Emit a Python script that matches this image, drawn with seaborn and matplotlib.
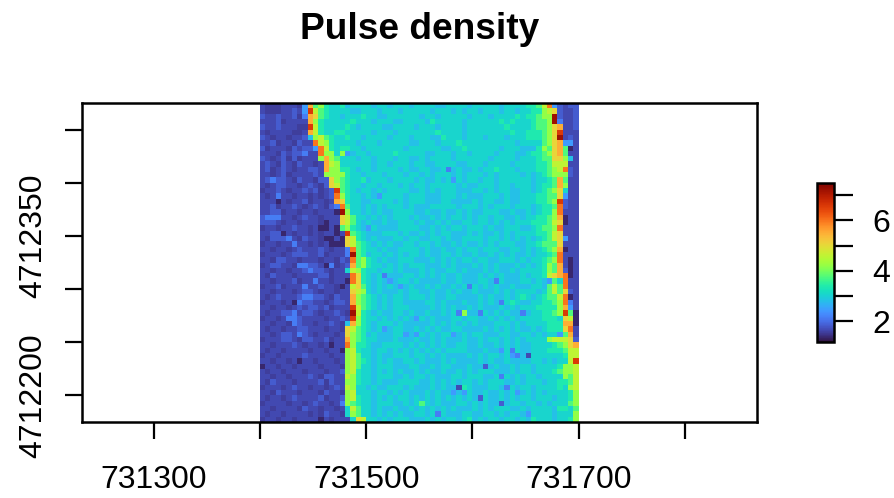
import numpy as np
import pandas as pd
import matplotlib.pyplot as plt
import seaborn as sns

sns.set_theme(style="white")
plt.rcParams['font.family'] = ['Liberation Sans', 'DejaVu Sans']

# density, one letter per 5 m cell, north to south
level_values = {'a': 1.35, 'q': 1.55, 'b': 1.66, 'c': 1.82, 'd': 2.15, 'e': 2.45, 'f': 2.8, 'g': 3.05, 'h': 3.35,
                'i': 3.75, 'j': 4.2, 'k': 4.6, 'l': 5.05, 'm': 5.5, 'n': 6.0, 'o': 6.6, 'p': 7.2}

rows_north = [
    "bqqqbbbqem ijhgghfggg gfggfgggfg gggffggggf gggggfgggg hhiknecbcc",
    "bqqqbbcbeo kihggggffg ggfgggfggg ggfgggfgfg gfgggfggfg ghhjklcbbc",
    "cbbcbbcqdm lihggfgggh ggffgggggg fggfgggggf gggfgggghg hhijjpcbbc",
    "bbbcqbbbbm jhggggghgg gfgggffggg gfhgggggfg ggggghghgg ghiijpdbbc",
    "cbbcbbbqqo khgggghgfg gggffggggf gggfggggfg gggggghggg ghiijlmbbc",
    "bqbbbbqqbm khgghhgggg gfgggfgggg ggghggggfg ggggggghgg hhhijlobbb",
    "cbqbbqbbcf jkihgghggf ggggfgggfg ggffhgggfg ggfgggfggg hhhijlpbcb",
    "bbcqbbqcbb nkjhggggfg ggfgggggff gggfggghgg ggggggggfg gggijlmeeb",
    "cqbbbqcbcc enkhghhggf gggggggfgg ggggffgghg gggggfgggf ffhjilmiab",
    "bbbqcbccdb bnjjgjefgg fgggghgggg gffgggfggf ggggfgggff ghhijlmibb",
    "cbqbcqcqbb bjmjigggfg gfgggfggff gfggggfggg gggfggggfg gghiilljfb",
    "bcbqcbqcbb qbmkjggggg gfggfgggfg gffggggffg ggfggggfgg gghhikkkbb",
    "bcqbcbqbbc cbmjjhhgfg gfggggfgff ggffgdfgff gfgghgggfg gghhijkncb",
    "bbqbcqbbbb cbjjjjhggf gggfgggfgg fgfgggfgfg ggfgfggggf gfghijjjcb",
    "bcdccbqcbb qccljihggh fgggfggggf gffgfgegfg gfggfggggg gfgghimibb",
    "bqbccbbqbc bqclkihggf ggfgggfgfg gfgggggfgf fgggfggfgg gfghhimjbb",
    "qbbcbqbbcb cqbcoihgfg gfgfggggff gfgfgggfff ggfgfggffg gfghijlgbb",
    "bqbdbbqbbq bqbcnjhggf gfeggggfgg gfffgggfgf ffgggfgffg gghhiilebb",
    "bbbabqbbcq bbqbmlhggf fggggfgfgg gfffggffff gfggffgffg gghhijocbb",
    "bbcqbbcbqb cbqcdniggf gfgfgggfgf ffgggggfgg gfgfgggfgg gfghhincbb",
]
rows_middle = [
    "bbccqbbqbb qbbbapjggf gfgffggggf fgffgffgfg ffgggffgff gfghhjnbbb",
    "cdddbbqbcb bqbbblkigg fgfgfgggfg ffgfgfggfg fggfggffgf gghhijmabb",
    "cccbqbbqbb bqabblkigf gffgffgggf gffgfgffgg fggfgfgfgg ghhhiklabb",
    "qbbqbbcbbq baabaijhgf egffffgggg ffgfgfggfg ggfgffgggf fghiijnbbb",
    "bbccabqbbq bqbbaboihg fffgggfgff gfgfggfffg fgffgfgfgg gghhiklbbb",
    "bqcccdbqcb bqaabalkhg fgfffggfgg ffggfgffgg ggfggfgfgf gfghiklebb",
    "qbbqbbdbbq bqbaaalkih gfgfgffggf ggfgffgfgf fgfgfgggff gghiiilbbb",
    "bbqbbqbcbb bcbqbbdnih ggfgffgggg fgffgffgfg gfgggffggf gfghijmabb",
    "qbbbqbcccb bcqbbbdpih fggfgfgfgg fgffggfgff gffgfgfgff gfgghinbbb",
    "bbqccbbqbb bqbbqcbnij hgfgffgggf ffgfgfgfgg fggffgggfg fgghijnbab",
    "qbccbbqddc cbadqbcmij hggfgfgfgg gfffgfgfff gfgfgfffgf gfghjimbab",
    "bbqbbqbbcd ccbqbbgkjh ggfggfgfff gfgffggfgf ffgfgffgfg ggghjimcab",
    "bqcbbbqbbb bccqbbbnlh gfgdfffggf gfgfgffgff fgfgfgfffg fgghklmnab",
    "bbqbbbcqbb dbbqbbanlh gfgfefggfg ffffgffgff fggfdgfffg gfgfeignbb",
    "qbbcqbbbdb bcbbqabkli gfgfgfefgf fgfgffgfgd gfgfgffgff fggfikinbb",
    "bbqbbbqbcc bqbbqbblkj gfgfffgfgg ffgffgfgff gfffgfgfgg ggfgikilcb",
    "bqbcbbbcdd ccbqcbbmji hgfgfggfgg gfgffggfff fgfgffgfgh gfghiiknab",
    "qbbbqbadcc bbqbccbmji hgfgfggfff fggfgfffgf fgfgfdghgf fgghhijndb",
    "bbqbbqbcbc cbcqbbboki hgfgfgggff ffgfgfgffg fgfffgfgfg gghhhhjmeb",
    "bqbbccdbcc bqbbcbqpkh gfgffggfgf fgffgfgdjf fdgfgfgffd fgghhijoia",
]
rows_south = [
    "qbbqbddcbb bbqbbcbojh ggfgfgfgfe gfgfffggfg gffgfgfgfg ggghhhglka",
    "bbqbbqdcbb qbbcbqfmjh gfgggfgfff ffgfgfgfgf gfffgggfgf gggghhhmma",
    "bqbbqbbccb bbqbbqlkih gfgefggffg fgfgffggff ffgfgfgfgf fgfghhhlnb",
    "bbqbccbdcb qbbbqbljih fgfffggefe gfgfggefgf ggfffggffg gfgfggeimb",
    "qbbbccbqcc bbcqbbmjih ggfffgfffg ffgfgfffgf fgfggfgfgf ggggjkkklc",
    "bbqbbbcbqb bqbabbnjhh gffggggfgf gfgfgffggf fgffgfgfgf fgggghijlm",
    "bqbbqbbbbq bbqbbajkhg gfggfgfgfg fgfgfggggf ffgffegdgf fggghhhikk",
    "qbbqbbbbcb bbbqbbjkig gfgffgggfg gfgfgffffg fgfggfgedf bgggggghkk",
    "bbqbbqbabb qbbbqbjkih gfgfgffggf gfffgfgfff fgfgffgfff fggfgfggko",
    "abbqbbqbbb bqbbbqjkig gfgggfffgg ffgfggfffg ffcfgffgfg gfgggghjjk",
    "bqbbqbbbqb bbqbbcjkhg gfgfgfgffg fgffgffgfg fgggfffgfg gfggghijjk",
    "bbqbbqbbbc bqccbbkjhg gfgggffgfg gfgfffggfg ggffgdgfgf ggfggggjik",
    "bqcbbbqbbb bcqcbbjjhg gfgfffgggg ffgfgfgfgg fgfgggffgf gggfgghhik",
    "qbbbqbcbbq bbqbcbkjgg fgffgggfgf ffgfgffbhg fffggfdgfg gfgggghgjk",
    "bbqcbbbqbb bqcbbqjkgg gfggfgfgff fgfgffefeg ffgffgfgef gfgfgggghj",
    "bqbbqbcbbb bcqbbcjkhg gfgfgfggfg fgfgfgfgfg fcgffgfgfg gfgggfgghj",
    "qbbbbqbbqb cbbqbdjihg gfgggffgfg igfgfffggf gfgffcfggf ggfgfgggij",
    "bbqbbbbqcb bqbbqbgkig gfgffgffgf gfgfgfgfff gfgfgggffg fggggfhhgi",
    "bqbbqbbbbq bqcbbqgjig gfgfgfgffg gfgdgfffgg ffggfgfggf eggggfgggj",
    "qbbqbbqbbb babqbbbglk ggfgfgggff fgfgfggfgh fgfggfggfg fhgggfgghj",
]

x_west, x_east = 731400, 731700
y_north, y_south = 4712475, 4712175
cell = 5
x_ticks = [731300, 731400, 731500, 731600, 731700, 731800]
x_labels = ['731300', '', '731500', '', '731700', '']
y_ticks = [4712200, 4712250, 4712300, 4712350, 4712400, 4712450]
y_labels = ['4712200', '', '', '4712350', '', '']
cbar_ticks = [2, 4, 6]
cbar_minor = [3, 5, 7]
v_min, v_max = 1.17, 7.49

all_rows = rows_north + rows_middle + rows_south
grid = [[level_values[ch] for ch in row.replace(' ', '')] for row in all_rows]
df = pd.DataFrame(grid)

W, H = 894, 498
fig = plt.figure(figsize=(W / 100, H / 100), dpi=100)
ax = fig.add_axes([82 / W, 1 - 422 / H, (757 - 82) / W, (422 - 103) / H])
cax = fig.add_axes([817 / W, 1 - 342 / H, (834 - 817) / W, (342 - 183) / H])

sns.heatmap(df, cmap='turbo', vmin=v_min, vmax=v_max, ax=ax, cbar_ax=cax,
            xticklabels=False, yticklabels=False)


def to_col(x):
    return (x - x_west) / cell


def to_row(y):
    return (y_north - y) / cell


ax.set_xlim(to_col(731232.7), to_col(731867.7))
ax.set_ylim(to_row(y_south), to_row(y_north))

ax.set_xticks([to_col(x) for x in x_ticks])
ax.set_xticklabels(x_labels)
ax.set_yticks([to_row(y) for y in y_ticks])
ax.set_yticklabels(y_labels, rotation=90, va='center')
ax.tick_params(axis='both', length=12.2, width=1.6, color='black', labelsize=23,
               labelcolor='black', bottom=True, left=True, pad=12)
ax.tick_params(axis='x', pad=19)
ax.set_xlabel('')
ax.set_ylabel('')
for s in ax.spines.values():
    s.set_visible(True)
    s.set_color('black')
    s.set_linewidth(1.8)

cb = ax.collections[0].colorbar
cb.set_ticks(cbar_ticks)
cb.set_ticklabels(['2', '4', '6'])
cb.ax.set_yticks(cbar_minor, minor=True)
cb.ax.tick_params(which='both', right=True, length=13.5, width=1.6, color='black',
                  labelsize=23, labelcolor='black', pad=14)
cb.outline.set_visible(True)
cb.outline.set_edgecolor('black')
cb.outline.set_linewidth(1.8)

fig.text(419.5 / W, 1 - 29 / H, 'Pulse density', fontsize=26.7, fontweight='bold',
         ha='center', va='center', color='black')

fig.savefig('out.png', dpi=100)
